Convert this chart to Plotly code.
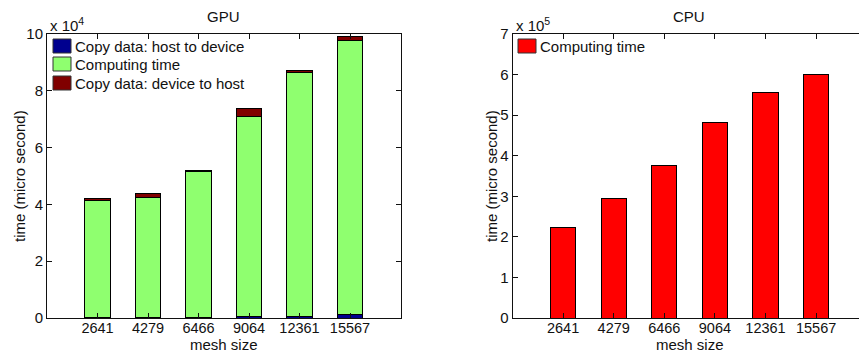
import plotly.graph_objects as go

# Mesh sizes on the x axis
mesh_sizes = ["2641", "4279", "6466", "9064", "12361", "15567"]

# GPU timings (micro seconds), stacked per mesh size
gpu_host_to_device = [100, 150, 200, 600, 600, 1300]
gpu_computing = [41200, 42250, 51300, 70500, 85800, 96300]
gpu_device_to_host = [800, 1400, 600, 2500, 700, 1400]

# CPU timings (micro seconds)
cpu_computing = [224000, 294000, 375000, 482000, 555000, 601000]

gpu_ticks = [0, 20000, 40000, 60000, 80000, 100000]
gpu_tick_text = ["0", "2", "4", "6", "8", "10"]
cpu_ticks = [0, 100000, 200000, 300000, 400000, 500000, 600000, 700000]
cpu_tick_text = ["0", "1", "2", "3", "4", "5", "6", "7"]

W, H = 859, 354
FONT = "Liberation Sans, Arial, sans-serif"
INK = "#111111"

C_H2D = "#00008F"
C_COMP = "#8FFF6F"
C_D2H = "#800000"
C_CPU = "#FF0000"

# Axes rectangles in pixels
gx0, gx1 = 47, 400.5
cx0 = 512.5
ytop, ybot = 34, 318


def px(x):
    return x / W


def py(y):
    return 1 - y / H


bar_line = dict(color="#000000", width=1)

fig = go.Figure()
fig.add_trace(go.Bar(x=mesh_sizes, y=gpu_host_to_device, name="Copy data: host to device",
                     marker=dict(color=C_H2D, line=bar_line), width=0.5,
                     xaxis="x", yaxis="y"))
fig.add_trace(go.Bar(x=mesh_sizes, y=gpu_computing, name="Computing time",
                     marker=dict(color=C_COMP, line=bar_line), width=0.5,
                     xaxis="x", yaxis="y"))
fig.add_trace(go.Bar(x=mesh_sizes, y=gpu_device_to_host, name="Copy data: device to host",
                     marker=dict(color=C_D2H, line=bar_line), width=0.5,
                     xaxis="x", yaxis="y"))
fig.add_trace(go.Bar(x=mesh_sizes, y=cpu_computing, name="Computing time",
                     marker=dict(color=C_CPU, line=bar_line), width=0.5,
                     xaxis="x2", yaxis="y2"))

axis_common = dict(
    showgrid=False, zeroline=False, showline=True, linecolor=INK, linewidth=1,
    ticks="inside", ticklen=5, tickcolor=INK, tickwidth=1, automargin=False,
    tickfont=dict(family=FONT, size=15, color=INK),
)
xaxis_common = dict(axis_common, tickfont=dict(family=FONT, size=14.5, color=INK),
                    ticklabelstandoff=-3)

# Step between categories in pixels, used to clip the CPU axes at the page edge
cpu_step = 50.6
cpu_right = -1 + (W - cx0) / cpu_step

fig.update_layout(
    width=W, height=H, autosize=False,
    margin=dict(l=0, r=0, t=0, b=0, pad=0),
    paper_bgcolor="white", plot_bgcolor="white",
    barmode="stack", bargap=0.5, showlegend=False,
    font=dict(family=FONT, size=15, color=INK),
    xaxis=dict(xaxis_common, domain=[px(gx0), px(gx1)], anchor="y",
               type="category", range=[-1, 6], mirror="ticks"),
    yaxis=dict(axis_common, domain=[py(ybot), py(ytop)], anchor="x",
               range=[0, 100000], tickvals=gpu_ticks, ticktext=gpu_tick_text,
               mirror="ticks"),
    xaxis2=dict(xaxis_common, domain=[px(cx0), 1], anchor="y2",
                type="category", range=[-1, cpu_right], mirror="ticks"),
    yaxis2=dict(axis_common, domain=[py(ybot), py(ytop)], anchor="x2",
                range=[0, 700000], tickvals=cpu_ticks, ticktext=cpu_tick_text),
)

annotations = []
shapes = []


def text(x, y, s, xanchor="center", yanchor="middle", angle=0, size=15):
    annotations.append(dict(
        x=px(x), y=py(y), xref="paper", yref="paper", text=s, showarrow=False,
        xanchor=xanchor, yanchor=yanchor, textangle=angle,
        font=dict(family=FONT, size=size, color=INK),
    ))


# Titles
text((gx0 + gx1) / 2, 17, "GPU")
text(689, 17, "CPU")

# Axis labels
text((gx0 + gx1) / 2, 355, "mesh size", yanchor="bottom")
text(cx0 + 3.5 * cpu_step, 355, "mesh size", yanchor="bottom")
text(19, (ytop + ybot) / 2, "time (micro second)", angle=-90)
text(491, (ytop + ybot) / 2, "time (micro second)", angle=-90)

# Exponent labels for the scaled y axes
text(gx0 + 1, 36, "x 10<sup>4</sup>", xanchor="left", yanchor="bottom")
text(cx0 + 1, 36, "x 10<sup>5</sup>", xanchor="left", yanchor="bottom")


# Legend entries: coloured square + label
def legend_item(x, yc, color, label):
    shapes.append(dict(type="rect", xref="paper", yref="paper",
                       x0=px(x), x1=px(x + 18), y0=py(yc + 7), y1=py(yc - 7),
                       fillcolor=color, line=dict(color="#333333", width=1)))
    text(x + 19.5, yc, label, xanchor="left")


legend_item(53, 46, C_H2D, "Copy data: host to device")
legend_item(53, 64, C_COMP, "Computing time")
legend_item(53, 83, C_D2H, "Copy data: device to host")
legend_item(518, 46, C_CPU, "Computing time")

fig.update_layout(annotations=annotations, shapes=shapes)

fig.write_html("out.html")
